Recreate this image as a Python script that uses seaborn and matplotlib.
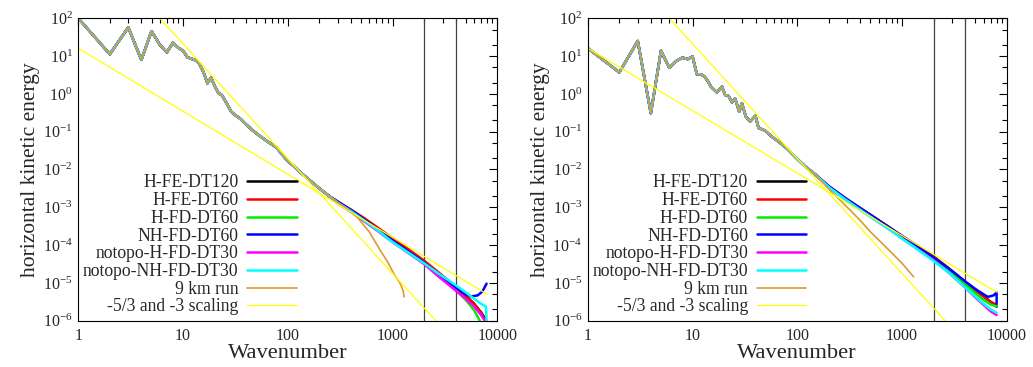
import numpy as np
import matplotlib
matplotlib.use('Agg')
import matplotlib.pyplot as plt
import seaborn as sns
from matplotlib.ticker import FixedLocator, FuncFormatter, NullFormatter

sns.set_theme(style='white')
plt.rcParams['font.family'] = ['Liberation Serif', 'DejaVu Serif']
plt.rcParams['mathtext.fontset'] = 'custom'
plt.rcParams['mathtext.rm'] = 'Liberation Serif'
plt.rcParams['mathtext.it'] = 'Liberation Serif:italic'

# series names / colours (legend order)
names = ['H-FE-DT120', 'H-FE-DT60', 'H-FD-DT60', 'NH-FD-DT60',
         'notopo-H-FD-DT30', 'notopo-NH-FD-DT30', '9 km run']
colors = ['black', '#ff0000', '#00ee00', '#0000ff', '#ff00ff', '#00ffff', '#dd9a33']

# ---- left panel: values are log10(energy)
k_low_L = [1, 2, 3, 4, 5, 6, 7, 8, 9, 10, 11, 12, 13, 14, 15.6, 17.1, 18.5, 20.2,
           21.8, 23.4, 26.1, 28.8, 31.4, 35, 39, 45.5, 52.6, 64, 78, 100, 113,
           131, 152, 200, 253]
e_low_L = [2.0, 1.05, 1.76, 0.90, 1.66, 1.30, 1.10, 1.35, 1.22, 1.14, 0.97, 0.93,
           0.90, 0.84, 0.59, 0.28, 0.43, 0.19, 0.02, -0.03, -0.25, -0.47, -0.56,
           -0.65, -0.78, -0.95, -1.09, -1.26, -1.42, -1.78, -1.90, -2.07, -2.22,
           -2.50, -2.72]

tails_L = {
    'H-FE-DT120': ([300, 400, 525, 700, 1000, 1400, 2000, 2800, 4000, 5000, 6000, 7000, 7800],
                   [-2.86, -3.08, -3.30, -3.55, -3.86, -4.14, -4.44, -4.76, -5.12, -5.35, -5.55, -5.78, -5.98]),
    'H-FE-DT60': ([300, 400, 525, 700, 1000, 1400, 2000, 2800, 4000, 5000, 6000, 7000, 7700],
                  [-2.85, -3.06, -3.27, -3.51, -3.82, -4.10, -4.41, -4.74, -5.10, -5.33, -5.55, -5.80, -6.0]),
    'H-FD-DT60': ([300, 400, 525, 700, 1000, 1400, 2000, 2800, 4000, 5000, 6000, 6800],
                  [-2.88, -3.10, -3.33, -3.58, -3.90, -4.17, -4.47, -4.81, -5.18, -5.45, -5.72, -6.0]),
    'NH-FD-DT60': ([300, 400, 525, 700, 1000, 1400, 2000, 2800, 4000, 5000, 5600, 6500, 7200, 7900],
                   [-2.85, -3.07, -3.30, -3.55, -3.88, -4.16, -4.46, -4.79, -5.12, -5.30, -5.36, -5.33, -5.23, -5.02]),
    'notopo-H-FD-DT30': ([300, 400, 525, 700, 1000, 1400, 2000, 2800, 4000, 5000, 6000, 7000, 7600],
                         [-2.90, -3.12, -3.35, -3.60, -3.92, -4.20, -4.50, -4.85, -5.20, -5.42, -5.62, -5.85, -6.0]),
    'notopo-NH-FD-DT30': ([300, 400, 525, 700, 1000, 1400, 2000, 2800, 4000, 5000, 6000, 7000, 7800, 7900],
                          [-2.88, -3.10, -3.33, -3.58, -3.92, -4.19, -4.48, -4.77, -5.06, -5.25, -5.42, -5.55, -5.63, -6.0]),
    '9 km run': ([300, 350, 456, 600, 760, 900, 1025, 1180, 1260, 1290],
                 [-2.88, -3.00, -3.25, -3.65, -4.13, -4.45, -4.75, -5.01, -5.20, -5.37]),
}

# ---- right panel
k_low_R = [1, 2, 3, 4, 5, 6, 7, 8, 9, 10, 11, 12, 13, 14, 15, 17.1, 19.1, 20.5,
           22, 23.8, 25.5, 27.9, 29.6, 32.3, 35.5, 39.8, 42.7, 49.2, 57, 66, 80,
           100, 120, 150]
e_low_R = [1.21, 0.57, 1.40, -0.51, 1.14, 0.69, 0.87, 0.96, 0.92, 0.99, 0.52, 0.52,
           0.46, 0.34, 0.19, 0.04, 0.19, -0.03, -0.05, -0.22, -0.12, -0.47, -0.25,
           -0.60, -0.73, -0.58, -0.90, -0.97, -1.13, -1.26, -1.45, -1.72, -1.93,
           -2.14]

tails_R = {
    'H-FE-DT120': ([200, 300, 400, 500, 700, 1000, 1400, 2000, 2800, 4000, 5000, 6000, 7000, 8000],
                   [-2.45, -2.80, -3.03, -3.20, -3.47, -3.76, -4.02, -4.31, -4.62, -4.97, -5.17, -5.35, -5.50, -5.63]),
    'H-FE-DT60': ([200, 300, 400, 500, 700, 1000, 1400, 2000, 2800, 4000, 5000, 6000, 7000, 8000],
                  [-2.45, -2.80, -3.03, -3.20, -3.47, -3.76, -4.02, -4.30, -4.62, -4.98, -5.20, -5.37, -5.50, -5.58]),
    'H-FD-DT60': ([200, 300, 400, 500, 700, 1000, 1400, 2000, 2800, 4000, 5000, 6000, 7000, 8000],
                  [-2.46, -2.81, -3.04, -3.22, -3.49, -3.79, -4.06, -4.35, -4.67, -5.03, -5.27, -5.45, -5.57, -5.62]),
    'NH-FD-DT60': ([200, 300, 400, 500, 700, 1000, 1400, 2000, 2800, 4000, 5000, 6000, 6600, 7500, 8000, 8000],
                   [-2.44, -2.79, -3.02, -3.20, -3.47, -3.76, -4.03, -4.32, -4.62, -4.96, -5.16, -5.30, -5.37, -5.33, -5.25, -5.55]),
    'notopo-H-FD-DT30': ([200, 300, 400, 500, 700, 1000, 1400, 2000, 2800, 4000, 5000, 6000, 7000, 8000],
                         [-2.47, -2.83, -3.07, -3.25, -3.52, -3.82, -4.10, -4.40, -4.73, -5.12, -5.38, -5.58, -5.75, -5.85]),
    'notopo-NH-FD-DT30': ([200, 300, 400, 500, 700, 1000, 1400, 2000, 2800, 4000, 5000, 6000, 7000, 8000],
                          [-2.47, -2.83, -3.07, -3.25, -3.52, -3.83, -4.11, -4.42, -4.73, -5.12, -5.36, -5.55, -5.70, -5.79]),
    '9 km run': ([200, 250, 300, 400, 500, 700, 1000, 1290],
                 [-2.52, -2.78, -3.00, -3.35, -3.65, -4.05, -4.48, -4.84]),
}

# scaling guide lines (-5/3 and -3), endpoints
guide53_k_L, guide53_e_L = [1, 8000], [1.21, -5.30]
guide3_k_L, guide3_e_L = [6.0, 2580], [2.0, -6.0]
guide53_k_R, guide53_e_R = [1, 8090], [1.21, -5.25]
guide3_k_R, guide3_e_R = [6.0, 2580], [2.0, -6.0]

vlines_k = [2000, 4000]

# tick positions (decades shown on the axes)
x_decades = [0, 1, 2, 3, 4]
y_decades = [-6, -5, -4, -3, -2, -1, 0, 1, 2]

widths = [1.8, 1.8, 1.8, 1.8, 1.8, 1.8, 1.2]


def draw(ax, k_low, e_low, tails, g53k, g53e, g3k, g3e):
    for name, col, lw in zip(names, colors, widths):
        tk, te = tails[name]
        k = np.array(list(k_low) + list(tk), dtype=float)
        e = 10 ** np.array(list(e_low) + list(te))
        sns.lineplot(x=k, y=e, color=col, lw=lw, ax=ax, label=name,
                     estimator=None, sort=False)
    sns.lineplot(x=np.array(g53k, float), y=10 ** np.array(g53e), color='#ffff00',
                 lw=0.9, ax=ax, label='-5/3 and -3 scaling', estimator=None, sort=False)
    sns.lineplot(x=np.array(g3k, float), y=10 ** np.array(g3e), color='#ffff00',
                 lw=0.9, ax=ax, estimator=None, sort=False)
    for v in vlines_k:
        ax.axvline(v, color='#444444', lw=0.9, zorder=1)

    ax.set_xscale('log')
    ax.set_yscale('log')
    ax.set_xlim(1, 10000)
    ax.set_ylim(1e-6, 1e2)
    xmaj = [10.0 ** d for d in x_decades]
    xmin = [m * 10.0 ** d for d in x_decades[:-1] for m in range(2, 10)]
    ymaj = [10.0 ** d for d in y_decades]
    ymin = [m * 10.0 ** d for d in y_decades[:-1] for m in (2, 5)]
    ax.xaxis.set_major_locator(FixedLocator(xmaj))
    ax.xaxis.set_minor_locator(FixedLocator(xmin))
    ax.xaxis.set_minor_formatter(NullFormatter())
    ax.xaxis.set_major_formatter(FuncFormatter(lambda v, p: '%d' % round(v)))
    ax.yaxis.set_major_locator(FixedLocator(ymaj))
    ax.yaxis.set_minor_locator(FixedLocator(ymin))
    ax.yaxis.set_minor_formatter(NullFormatter())
    ax.yaxis.set_major_formatter(FuncFormatter(
        lambda v, p: r'$\mathregular{10^{%d}}$' % round(np.log10(v))))
    ax.tick_params(which='both', direction='in', top=True, right=True,
                   labelsize=11.5, color='black', width=0.8)
    ax.tick_params(which='major', length=6)
    ax.tick_params(which='minor', length=3.5)
    ax.tick_params(axis='x', pad=5)
    ax.tick_params(axis='y', pad=4)
    for s in ax.spines.values():
        s.set_color('black')
        s.set_linewidth(0.8)
    ax.set_xlabel('Wavenumber', fontsize=16.2, labelpad=0)
    ax.set_ylabel('horizontal kinetic energy', fontsize=15.5, labelpad=2)

    h, l = ax.get_legend_handles_labels()
    ax.legend(h, l, loc='lower right', bbox_to_anchor=(0.534, 0.0),
              frameon=False, markerfirst=False, fontsize=12.7,
              handlelength=2.8, handletextpad=0.5, labelspacing=0.04,
              borderpad=0.3, borderaxespad=0)


fig = plt.figure(figsize=(10.33, 3.67), dpi=100)
fig.patch.set_facecolor('white')
axL = fig.add_axes([0.0758, 0.1262, 0.4056, 0.8239])
axR = fig.add_axes([0.569, 0.1262, 0.4056, 0.8239])
for a in (axL, axR):
    a.set_facecolor('white')

draw(axL, k_low_L, e_low_L, tails_L, guide53_k_L, guide53_e_L, guide3_k_L, guide3_e_L)
draw(axR, k_low_R, e_low_R, tails_R, guide53_k_R, guide53_e_R, guide3_k_R, guide3_e_R)

fig.savefig('out.png', dpi=100, facecolor='white')
